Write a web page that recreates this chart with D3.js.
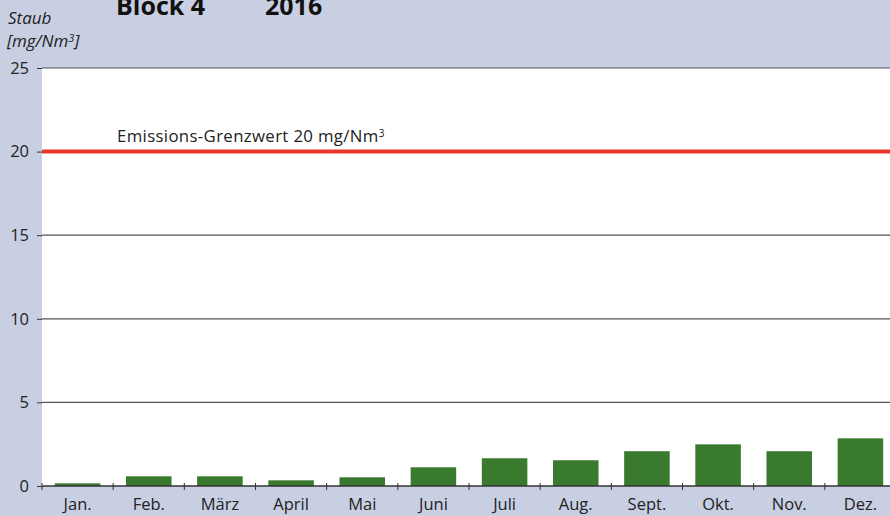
<!DOCTYPE html>
<html>
<head>
<meta charset="utf-8">
<script src="https://cdn.jsdelivr.net/npm/d3@7"></script>
<style>
  html, body { margin: 0; padding: 0; background: #c9cfe3; }
  svg { display: block; font-family: "Open Sans", "Noto Sans", sans-serif; }
</style>
</head>
<body>
<svg id="chart" width="890" height="516"></svg>
<script>
const months = ['Jan.', 'Feb.', 'März', 'April', 'Mai', 'Juni', 'Juli', 'Aug.', 'Sept.', 'Okt.', 'Nov.', 'Dez.'];
const staub = [0.16, 0.58, 0.58, 0.34, 0.52, 1.12, 1.66, 1.54, 2.08, 2.49, 2.08, 2.85];
const yTicks = [0, 5, 10, 15, 20, 25];
const grenzwert = 20;

const svg = d3.select('#chart');
const plotLeft = 42, plotRight = 896, plotTop = 68, plotBottom = 486;

const x = d3.scaleBand().domain(months).range([plotLeft, plotRight]).paddingInner(0.36).paddingOuter(0.18);
const y = d3.scaleLinear().domain([0, 25]).range([plotBottom, plotTop]);

// plot area
svg.append('rect')
  .attr('x', plotLeft).attr('y', plotTop)
  .attr('width', 890 - plotLeft).attr('height', plotBottom - plotTop)
  .attr('fill', '#ffffff');

// gridlines
svg.append('g')
  .selectAll('line')
  .data(yTicks.filter((d) => d !== 0 && d !== grenzwert))
  .join('line')
  .attr('x1', plotLeft).attr('x2', 890)
  .attr('y1', (d) => y(d)).attr('y2', (d) => y(d))
  .attr('stroke', '#555')
  .attr('stroke-width', 1.2);

// y axis ticks + labels
const yAxis = d3.axisLeft(y).tickValues(yTicks).tickSize(5).tickPadding(8);
svg.append('g')
  .attr('transform', `translate(${plotLeft},0)`)
  .call(yAxis)
  .call((g) => g.select('.domain').remove())
  .call((g) => g.selectAll('line').attr('stroke', '#333'))
  .call((g) => g.selectAll('text').attr('font-size', 16.5).attr('fill', '#222')
    .attr('font-family', '"Open Sans", "Noto Sans", sans-serif'));

// bars
svg.append('g')
  .selectAll('rect')
  .data(staub)
  .join('rect')
  .attr('x', (d, i) => x(months[i]))
  .attr('width', x.bandwidth())
  .attr('y', (d) => y(d))
  .attr('height', (d) => y(0) - y(d))
  .attr('fill', '#3a7a2e');

// limit line
svg.append('line')
  .attr('x1', plotLeft).attr('x2', 890)
  .attr('y1', y(grenzwert)).attr('y2', y(grenzwert))
  .attr('stroke', '#e8362b')
  .attr('stroke-width', 4);

const lbl = svg.append('text')
  .attr('x', 117).attr('y', y(grenzwert) - 10)
  .attr('font-size', 16.8).attr('letter-spacing', 0.35).attr('fill', '#222');
lbl.append('tspan').text('Emissions-Grenzwert 20 mg/Nm');
lbl.append('tspan').attr('font-size', 10).attr('dy', -5).text('3');

// x axis
const bounds = d3.range(13).map((i) => plotLeft + i * (plotRight - plotLeft) / 12);
svg.append('line')
  .attr('x1', plotLeft).attr('x2', 890)
  .attr('y1', y(0)).attr('y2', y(0))
  .attr('stroke', '#333').attr('stroke-width', 1.4);
svg.append('g')
  .selectAll('line')
  .data(bounds)
  .join('line')
  .attr('x1', (d) => d).attr('x2', (d) => d)
  .attr('y1', y(0) - 3).attr('y2', y(0) + 4)
  .attr('stroke', '#333').attr('stroke-width', 1);

svg.append('g')
  .selectAll('text')
  .data(months)
  .join('text')
  .attr('x', (d) => x(d) + x.bandwidth() / 2)
  .attr('y', 510)
  .attr('text-anchor', 'middle')
  .attr('font-size', 16.5)
  .attr('fill', '#222')
  .text((d) => d);

// titles (cut off at the top edge, as in the original)
svg.append('text').attr('x', 116).attr('y', 15)
  .attr('font-size', 25).attr('font-weight', 'bold').attr('fill', '#111').text('Block 4');
svg.append('text').attr('x', 265).attr('y', 15)
  .attr('font-size', 25).attr('font-weight', 'bold').attr('fill', '#111').text('2016');

const unit = svg.append('g').attr('font-style', 'italic').attr('font-size', 17).attr('fill', '#222');
unit.append('text').attr('x', 8).attr('y', 24).text('Staub');
const u2 = unit.append('text').attr('x', 7).attr('y', 47);
u2.append('tspan').text('[mg/Nm');
u2.append('tspan').attr('font-size', 11).attr('dy', -5).text('3');
u2.append('tspan').attr('dy', 5).text(']');
</script>
</body>
</html>
